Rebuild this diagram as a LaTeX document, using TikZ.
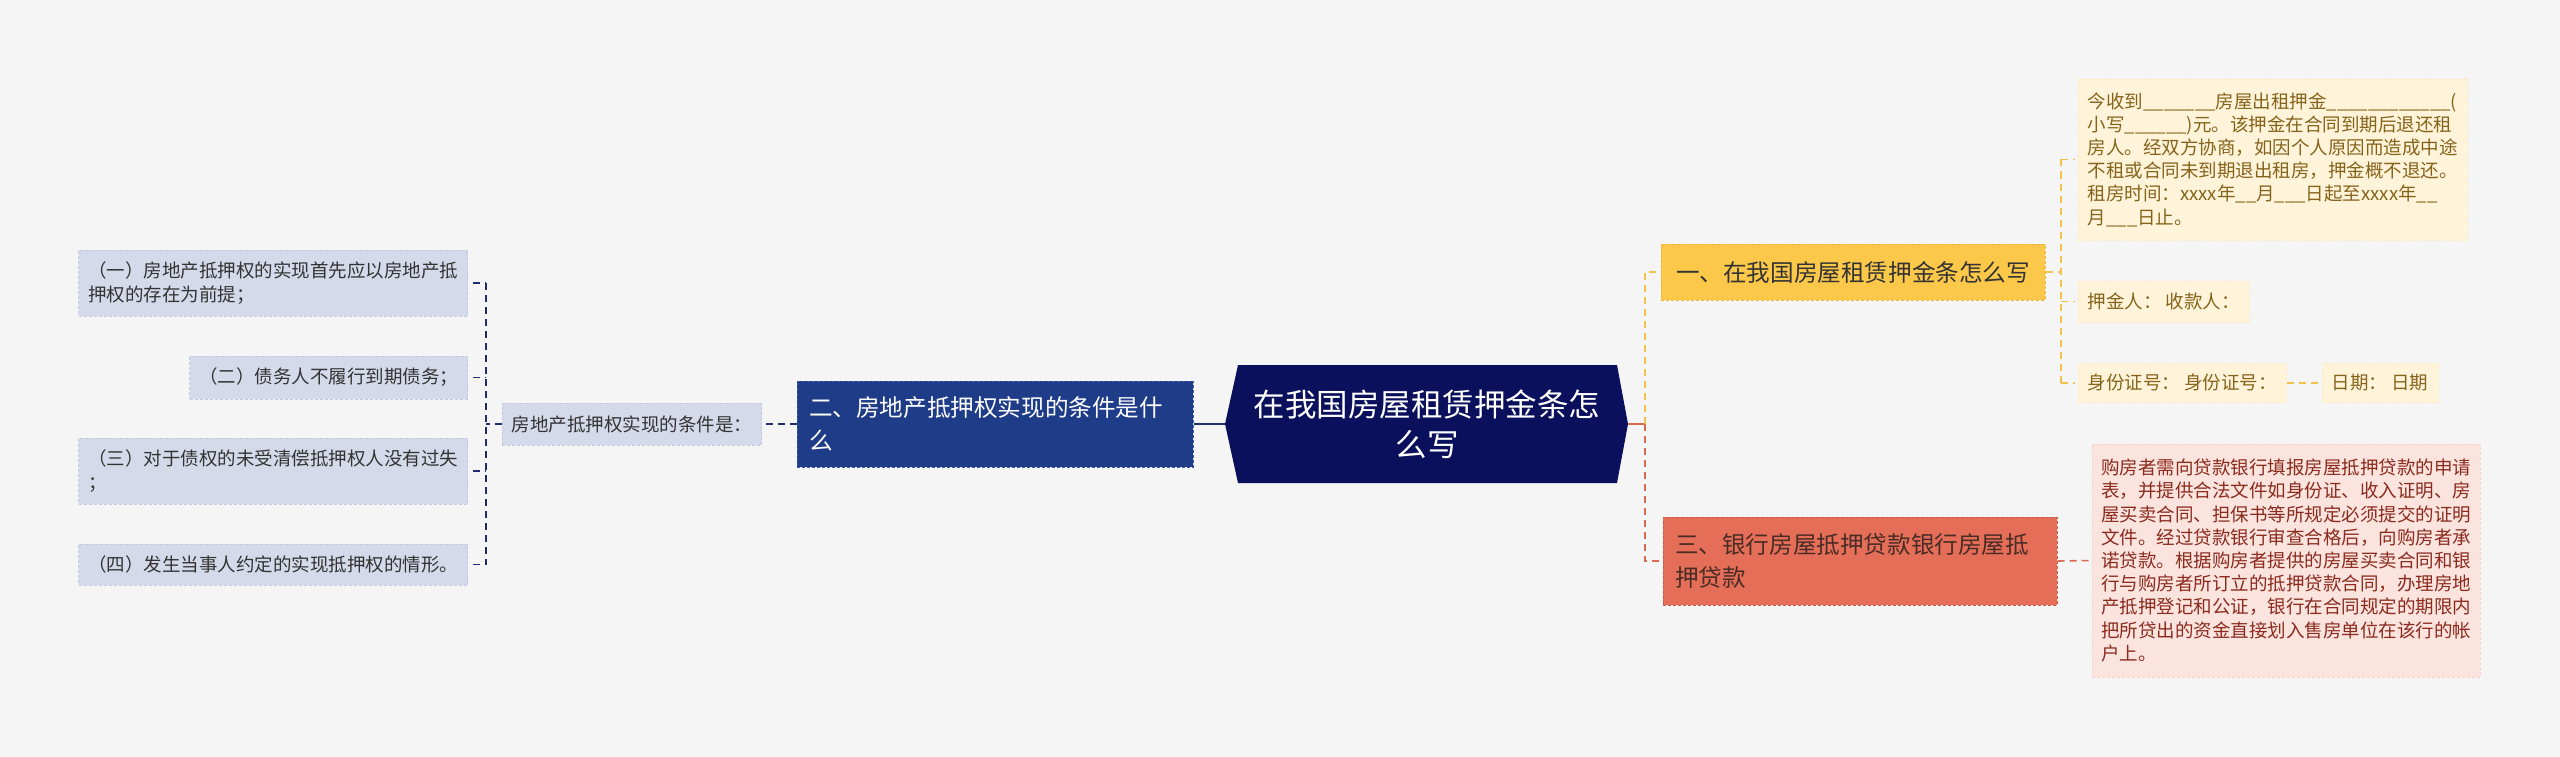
\documentclass[tikz,border=0pt]{standalone}
\usepackage{fontspec}
\setmainfont{Noto Sans CJK SC}
\usetikzlibrary{calc}

\definecolor{bgcol}{HTML}{F5F5F5}
\definecolor{rootfill}{HTML}{0B105C}
\definecolor{bluefill}{HTML}{1F3C88}
\definecolor{blueedge}{HTML}{3A58A6}
\definecolor{navyline}{HTML}{1E2D6E}
\definecolor{greyfill}{HTML}{D4DAE9}
\definecolor{greyedge}{HTML}{C3CADF}
\definecolor{yelfill}{HTML}{FCC84A}
\definecolor{yeledge}{HTML}{EFB43A}
\definecolor{yelline}{HTML}{F2C14E}
\definecolor{creamfill}{HTML}{FFF4DA}
\definecolor{creamtext}{HTML}{86631A}
\definecolor{redfill}{HTML}{E46E58}
\definecolor{rededge}{HTML}{CC5C48}
\definecolor{redline}{HTML}{D96B55}
\definecolor{redtext}{HTML}{4A2C26}
\definecolor{pinkfill}{HTML}{FBE3DE}
\definecolor{pinktext}{HTML}{8B2B1E}

\begin{document}
\begin{tikzpicture}[x=1pt, y=-1pt,
  every node/.style={inner xsep=9.5pt, inner ysep=3pt, font=\fontsize{18.5}{23.2}\selectfont, align=left},
  mainbox/.style={font=\fontsize{23.6}{33}\selectfont, draw, densely dashed, line width=1pt},
  lleaf/.style={fill=greyfill, draw=greyedge, densely dashed, line width=1pt, text=black!80, anchor=east},
  rleaf/.style={fill=creamfill, draw=creamfill!80!yelfill, densely dashed, line width=0.6pt, text=creamtext, anchor=west},
  navydash/.style={draw=navyline, line width=1.6pt, dash pattern=on 7pt off 5pt},
  yeldash/.style={draw=yelline, line width=1.6pt, dash pattern=on 7pt off 5pt},
  reddash/.style={draw=redline, line width=1.6pt, dash pattern=on 7pt off 5pt}]

\fill[bgcol] (0,0) rectangle (2560,757);
\useasboundingbox (0,0) rectangle (2560,757);

\fill[rootfill] (1238,365) -- (1617,365) -- (1628,424) -- (1617,483) -- (1238,483) -- (1225,424) -- cycle;
\node[text=white, font=\fontsize{31.5}{40}\selectfont, align=center] (root) at (1427,424) {在我国房屋租赁押金条怎\\么写};
\coordinate (rootW) at (1225,424);
\coordinate (rootE) at (1628,424);

\node[mainbox, fill=bluefill, draw=blueedge, text=white, text width=372pt, inner xsep=12pt, minimum height=86pt] (b2) at (995,424) {二、房地产抵押权实现的条件是什\\么};
\node[lleaf, minimum height=42pt] (cond) at (762,424) {房地产抵押权实现的条件是：};

\foreach \n/\y/\h/\txt in {l1/283/66/{（一）房地产抵押权的实现首先应以房地产抵\\押权的存在为前提；},
  l2/377.5/43/{（二）债务人不履行到期债务；},
  l3/471/66/{（三）对于债权的未受清偿抵押权人没有过失\\；},
  l4/564.5/41/{（四）发生当事人约定的实现抵押权的情形。}}
  \node[lleaf, minimum height=\h pt] (\n) at (468,\y) {\txt};

\node[mainbox, fill=yelfill, draw=yeledge, text=black!80, inner xsep=15pt, minimum height=56pt] (b1) at (1853,272) {一、在我国房屋租赁押金条怎么写};
\node[mainbox, fill=redfill, draw=rededge, text=redtext, text width=370pt, inner xsep=12pt, minimum height=88pt] (b3) at (1860,561) {三、银行房屋抵押贷款银行房屋抵\\押贷款};

\node[rleaf, minimum height=161pt] (r1) at (2078,159.5) {今收到\_\_\_\_\_\_\_房屋出租押金\_\_\_\_\_\_\_\_\_\_\_\_(\\小写\_\_\_\_\_\_)元。该押金在合同到期后退还租\\房人。经双方协商，如因个人原因而造成中途\\不租或合同未到期退出租房，押金概不退还。\\租房时间：xxxx年\_\_月\_\_\_日起至xxxx年\_\_\\月\_\_\_日止。};
\node[rleaf, minimum height=41pt] (r2) at (2078,301.5) {押金人： 收款人：};
\node[rleaf, minimum height=39pt] (r3) at (2078,383) {身份证号： 身份证号：};
\node[rleaf, minimum height=39pt] (r4) at (2322,383) {日期： 日期};

\node[fill=pinkfill, draw=pinkfill!85!redfill, densely dashed, line width=0.6pt, text=pinktext, anchor=west, inner xsep=9pt, minimum height=233pt] (p1) at (2092,560.5) {购房者需向贷款银行填报房屋抵押贷款的申请\\表，并提供合法文件如身份证、收入证明、房\\屋买卖合同、担保书等所规定必须提交的证明\\文件。经过贷款银行审查合格后，向购房者承\\诺贷款。根据购房者提供的房屋买卖合同和银\\行与购房者所订立的抵押贷款合同，办理房地\\产抵押登记和公证，银行在合同规定的期限内\\把所贷出的资金直接划入售房单位在该行的帐\\户上。};

\draw[navyline, line width=2.5pt] (rootW) -- (b2.east);
\draw[navydash] (b2.west) -- (cond.east);
\coordinate (lbar) at (486,424);
\draw[navydash] (cond.west) -- (lbar);
\draw[navydash] (l1.east -| lbar) -- (l4.east -| lbar);
\foreach \n in {l1,l2,l3,l4} \draw[navydash, shorten <=5pt] (\n.east) -- (\n.east -| lbar);

\coordinate (rbar) at (1645,424);
\draw[redline, line width=2.5pt] (rootE) -- (rbar);
\draw[yeldash] (rbar) -- (b1.west -| rbar) -- (b1.west);
\draw[reddash] (rbar) -- (b3.west -| rbar) -- (b3.west);

\coordinate (ybar) at (2061,272);
\draw[yeldash] (b1.east) -- (ybar);
\draw[yeldash] (r1.west -| ybar) -- (r3.west -| ybar);
\foreach \n in {r1,r2,r3} \draw[yeldash, shorten >=3pt] (\n.west -| ybar) -- (\n.west);
\draw[yeldash] (r3.east) -- (r4.west);
\draw[reddash] (b3.east) -- (p1.west);
\end{tikzpicture}
\end{document}
